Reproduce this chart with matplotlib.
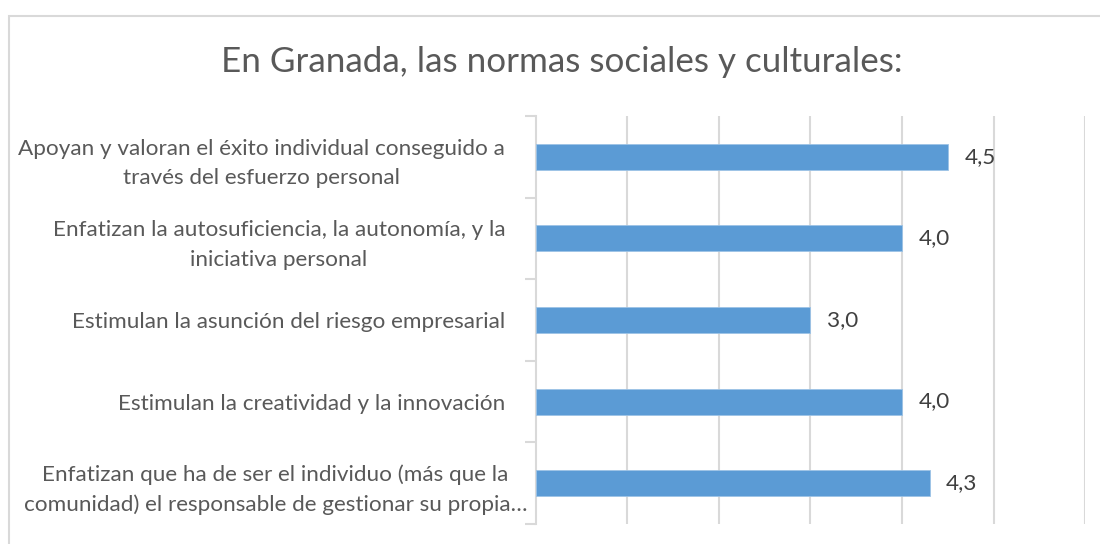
import matplotlib
matplotlib.use("Agg")
import matplotlib.pyplot as plt
from matplotlib.patches import Rectangle
from matplotlib.transforms import ScaledTranslation

title = "En Granada, las normas sociales y culturales:"
categories = [
    "Apoyan y valoran el éxito individual conseguido a\ntravés del esfuerzo personal",
    "Enfatizan la autosuficiencia, la autonomía, y la\niniciativa personal",
    "Estimulan la asunción del riesgo empresarial",
    "Estimulan la creatividad y la innovación",
    "Enfatizan que ha de ser el individuo (más que la\ncomunidad) el responsable de gestionar su propia…",
]
values = [4.5, 4.0, 3.0, 4.0, 4.3]
x_max = 6

bar_color = "#5B9BD5"
grid_color = "#D9D9D9"
label_color = "#595959"
value_color = "#404040"
font = ["Lato", "DejaVu Sans"]

fig = plt.figure(figsize=(11, 5.44), dpi=100)
fig.patch.set_facecolor("white")

# chart frame
fig.patches.append(Rectangle((9 / 1100, -0.02), 1.1, 1 - 16 / 544 + 0.02,
                             transform=fig.transFigure, fill=False,
                             edgecolor=grid_color, linewidth=1.5))

ax = fig.add_axes([0.487, 0.0368, 0.4996, 0.75])
y = list(range(len(categories)))
ax.barh(y, values, height=0.32, color=bar_color, edgecolor="#9DC3E6",
        linewidth=0.6, zorder=3)
ax.set_xlim(0, x_max)
ax.set_ylim(len(categories) - 0.5, -0.5)

ax.set_xticks(range(1, x_max + 1))
ax.xaxis.grid(True, color=grid_color, linewidth=1.5)
ax.tick_params(axis="x", length=0, labelbottom=False)

ax.set_yticks(y)
ax.set_yticklabels(categories, fontsize=16.2, color=label_color, family=font,
                   linespacing=1.58)
ax.tick_params(axis="y", which="major", length=0, pad=22)
ax.set_yticks([i - 0.5 for i in range(len(categories) + 1)], minor=True)
ax.tick_params(axis="y", which="minor", length=8, width=1.5, color=grid_color,
               direction="out")
for lbl in ax.get_yticklabels():
    lbl.set_horizontalalignment("right")
    lbl.set_multialignment("center")
# the truncated last label runs closer to the axis
last = ax.get_yticklabels()[-1]
last.set_transform(last.get_transform()
                   + ScaledTranslation(0.22, 0, fig.dpi_scale_trans))

for side in ("top", "right", "bottom"):
    ax.spines[side].set_visible(False)
ax.spines["left"].set_color(grid_color)
ax.spines["left"].set_linewidth(1.5)

for yi, v in zip(y, values):
    ax.text(v + 0.18, yi, f"{v:.1f}".replace(".", ","), va="center",
            ha="left", fontsize=16.2, color=value_color, family=font)

fig.text(0.511, 0.886, title, ha="center", va="center", fontsize=25.2,
         color=label_color, family=font)

fig.savefig("out.png", dpi=100)
